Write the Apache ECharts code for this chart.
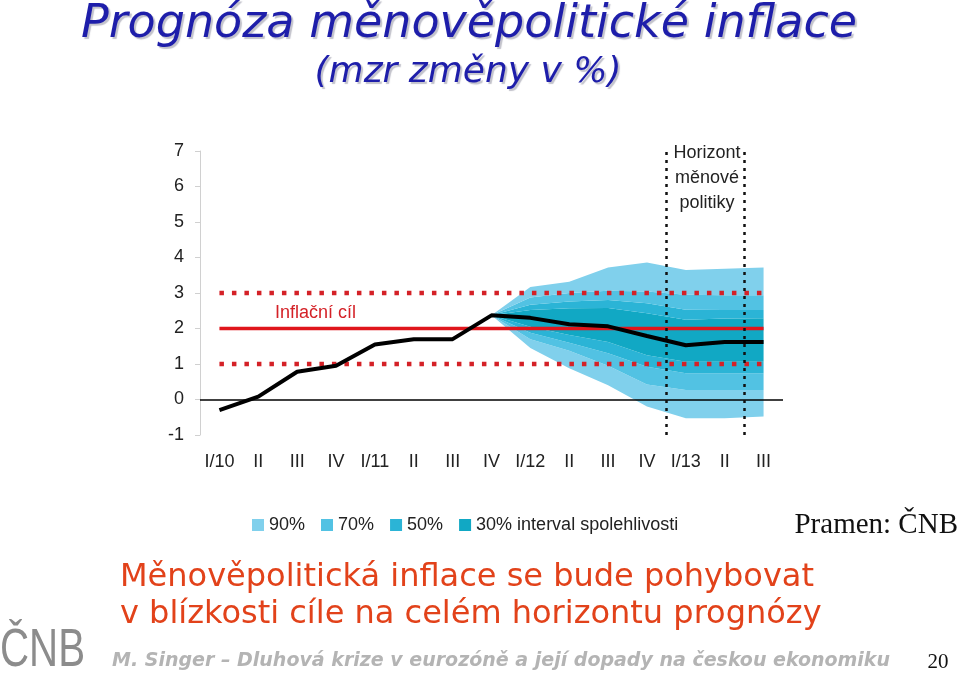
<!DOCTYPE html>
<html>
<head>
<meta charset="utf-8">
<script src="https://cdn.jsdelivr.net/npm/echarts@6/dist/echarts.min.js"></script>
<style>
html,body{margin:0;padding:0;background:#fff;}
#chart{width:960px;height:673px;}
</style>
</head>
<body>
<div id="chart"></div>
<script>
// ---- data ----
const categories = ['I/10','II','III','IV','I/11','II','III','IV','I/12','II','III','IV','I/13','II','III'];
const yTicks = [-1, 0, 1, 2, 3, 4, 5, 6, 7];
const inflation = [-0.3, 0.08, 0.78, 0.95, 1.55, 1.7, 1.7, 2.37, 2.3, 2.12, 2.06, 1.79, 1.53, 1.62, 1.62];
const inflationTarget = 2;
const toleranceBand = [1, 3];
const n = null;
// fan bounds (start at IV/11)
const upper90 = [n,n,n,n,n,n,n, 2.37, 3.17, 3.32, 3.72, 3.86, 3.65, 3.68, 3.72];
const upper70 = [n,n,n,n,n,n,n, 2.37, 2.87, 3.00, 3.06, 3.04, 2.95, 2.94, 2.94];
const upper50 = [n,n,n,n,n,n,n, 2.37, 2.67, 2.76, 2.80, 2.71, 2.53, 2.52, 2.52];
const upper30 = [n,n,n,n,n,n,n, 2.37, 2.52, 2.57, 2.58, 2.43, 2.25, 2.28, 2.29];
const lower30 = [n,n,n,n,n,n,n, 2.37, 2.05, 1.82, 1.62, 1.25, 1.06, 1.06, 1.06];
const lower50 = [n,n,n,n,n,n,n, 2.37, 1.88, 1.60, 1.30, 0.92, 0.74, 0.74, 0.74];
const lower70 = [n,n,n,n,n,n,n, 2.37, 1.70, 1.37, 0.95, 0.42, 0.27, 0.27, 0.27];
const lower90 = [n,n,n,n,n,n,n, 2.37, 1.45, 0.88, 0.40, -0.20, -0.53, -0.53, -0.48];
const bandNames = ['90%', '70%', '50%', '30% interval spolehlivosti'];
// policy horizon: boundaries before I/13 (index 12) and before III/13 (index 14)
const horizonBounds = [12, 14];

// ---- styles ----
const bandColors = {'90%':'#80d0ec','70%':'#52c2e3','50%':'#2bb4d6','30% interval spolehlivosti':'#11a8c4'};
const FONT = 'Liberation Sans, Arial, sans-serif';

function diff(a, b){ return a.map((v,i)=> (v==null||b[i]==null) ? null : +(v-b[i]).toFixed(4)); }

const fanLayers = [
  {name:null, data: lower90, base:true},
  {name:'90%', data: diff(lower70, lower90)},
  {name:'70%', data: diff(lower50, lower70)},
  {name:'50%', data: diff(lower30, lower50)},
  {name:'30% interval spolehlivosti', data: diff(upper30, lower30)},
  {name:'50%', data: diff(upper50, upper30)},
  {name:'70%', data: diff(upper70, upper50)},
  {name:'90%', data: diff(upper90, upper70)}
];

const series = fanLayers.map(l => ({
  type:'line',
  name: l.base ? 'base' : l.name,
  stack:'fan',
  stackStrategy:'all',
  data:l.data,
  symbol:'none',
  showSymbol:false,
  silent:true,
  color: l.base ? 'transparent' : bandColors[l.name],
  lineStyle:{width:0, opacity:0},
  areaStyle: l.base ? {opacity:0} : {color: bandColors[l.name], opacity:1},
  z:2
}));

series.push({
  type:'line', name:'zero', data: categories.map(()=>null), symbol:'none',
  markLine:{silent:true, symbol:'none', label:{show:false},
    lineStyle:{color:'#000', width:1.5, type:'solid'},
    data:[{yAxis:0}]},
  z:3
});
toleranceBand.forEach(v => series.push({
  type:'line', name:'tol'+v, data: categories.map(()=>v), symbol:'none', silent:true,
  lineStyle:{color:'#d42127', width:4.5, type:[4.5, 8]}, z:4
}));
series.push({
  type:'line', name:'target', data: categories.map(()=>inflationTarget), symbol:'none', silent:true,
  lineStyle:{color:'#e0161c', width:3.5}, z:4
});
series.push({
  type:'line', name:'inflation', data: inflation, symbol:'none', silent:true,
  lineStyle:{color:'#000', width:4}, z:5
});
// horizon lines on a hidden band-boundary axis
series.push({
  type:'line', name:'horizon', xAxisIndex:1, data: horizonBounds.map(b => [b, null]), symbol:'none', z:6,
  lineStyle:{width:0},
  markLine:{silent:true, symbol:'none', label:{show:false},
    lineStyle:{color:'#111', width:2.5, type:[3,5]},
    data: horizonBounds.map(b => ({xAxis: b}))}
});

const chart = echarts.init(document.getElementById('chart'), null, {renderer:'canvas'});
chart.setOption({
  backgroundColor:'#fff',
  animation:false,
  textStyle:{fontFamily:FONT},
  grid:{left:200, top:151, width:583, height:284, containLabel:false},
  legend:{
    left:247, top:511, icon:'rect', itemWidth:12, itemHeight:12, itemGap:16,
    textStyle:{fontFamily:FONT, fontSize:18, color:'#222'},
    selectedMode:false,
    data: bandNames.map(nm => ({name:nm, itemStyle:{color:bandColors[nm]}}))
  },
  xAxis:[{
    type:'category', data:categories, boundaryGap:true,
    axisLine:{show:false}, axisTick:{show:false},
    axisLabel:{fontFamily:FONT, fontSize:18, color:'#222', margin:18, interval:0},
    splitLine:{show:false}
  },{
    type:'value', min:0, max:categories.length, show:false
  }],
  yAxis:{
    type:'value', min:yTicks[0], max:yTicks[yTicks.length-1], interval:1,
    axisLine:{show:true, lineStyle:{color:'#d0d0d0', width:1}},
    axisTick:{show:true, length:5, lineStyle:{color:'#d0d0d0'}},
    axisLabel:{fontFamily:FONT, fontSize:18, color:'#222', margin:16},
    splitLine:{show:false}
  },
  graphic:[
    {type:'text', x:469, y:25, style:{text:'Prognóza měnověpolitické inflace', font:'italic 46px "DejaVu Sans", Verdana, sans-serif', fill:'#1e1eaa', align:'center', verticalAlign:'middle', textShadowColor:'rgba(120,120,140,0.45)', textShadowOffsetX:2, textShadowOffsetY:2, textShadowBlur:1}},
    {type:'text', x:468, y:73, style:{text:'(mzr změny v %)', font:'italic 36px "DejaVu Sans", Verdana, sans-serif', fill:'#1e1eaa', align:'center', verticalAlign:'middle', textShadowColor:'rgba(120,120,140,0.45)', textShadowOffsetX:2, textShadowOffsetY:2, textShadowBlur:1}},
    {type:'text', x:707, y:153, style:{text:'Horizont', font:'18px '+FONT, fill:'#222', align:'center', verticalAlign:'middle'}, z:10},
    {type:'text', x:707, y:178, style:{text:'měnové', font:'18px '+FONT, fill:'#222', align:'center', verticalAlign:'middle'}, z:10},
    {type:'text', x:707, y:203, style:{text:'politiky', font:'18px '+FONT, fill:'#222', align:'center', verticalAlign:'middle'}, z:10},
    {type:'text', x:275, y:313, style:{text:'Inflační cíl', font:'18px '+FONT, fill:'#d42127', align:'left', verticalAlign:'middle'}, z:10},
    {type:'text', x:958, y:525, style:{text:'Pramen: ČNB', font:'29px "Liberation Serif", "Times New Roman", serif', fill:'#111', align:'right', verticalAlign:'middle'}},
    {type:'text', x:120, y:578, style:{text:'Měnověpolitická inflace se bude pohybovat', font:'32px "DejaVu Sans", Verdana, sans-serif', fill:'#e2421a', align:'left', verticalAlign:'middle'}},
    {type:'text', x:120, y:615, style:{text:'v blízkosti cíle na celém horizontu prognózy', font:'32px "DejaVu Sans", Verdana, sans-serif', fill:'#e2421a', align:'left', verticalAlign:'middle'}},
    {type:'text', x:112, y:661, style:{text:'M. Singer – Dluhová krize v eurozóně a její dopady na českou ekonomiku', font:'italic bold 19px "DejaVu Sans", Verdana, sans-serif', fill:'#b4b4b4', align:'left', verticalAlign:'middle'}},
    {type:'text', x:938, y:662, style:{text:'20', font:'21px "Liberation Serif", "Times New Roman", serif', fill:'#111', align:'center', verticalAlign:'middle'}},
    {type:'text', x:0, y:651, scaleX:0.76, style:{text:'ČNB', font:'53px '+FONT, fill:'#8c8c8c', align:'left', verticalAlign:'middle'}}
  ],
  series: series
});
</script>
</body>
</html>
